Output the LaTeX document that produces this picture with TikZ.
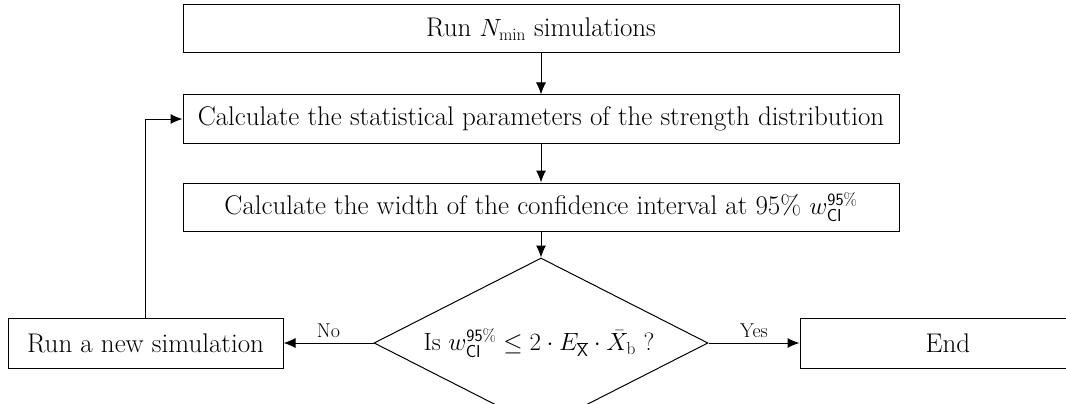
\documentclass[tikz,border=0pt]{standalone}
\usetikzlibrary{shapes.geometric,arrows.meta}
\begin{document}
\begin{tikzpicture}[x=1pt,y=-1pt,
  box/.style={draw, line width=1pt, rectangle, inner sep=0pt, font=\fontsize{27}{32}\selectfont},
  dia/.style={draw, line width=1pt, diamond, inner sep=0pt, minimum width=334pt, minimum height=170pt},
  arr/.style={line width=1pt, -{Latex[length=12pt,width=10pt]}},
  lbl/.style={font=\fontsize{20}{24}\selectfont, inner sep=5pt}]
\clip (0,0) rectangle (1066,404);
\node[box, minimum width=716pt, minimum height=48pt] (b1) at (541,29) {Run $N_{\mathrm{min}}$ simulations};
\node[box, minimum width=716pt, minimum height=48pt] (b2) at (541,119) {Calculate the statistical parameters of the strength distribution};
\node[box, minimum width=716pt, minimum height=48pt] (b3) at (541,207) {Calculate the width of the confidence interval at 95\% $w_{\mathsf{CI}}^{\mathsf{95\%}}$};
\node[dia] (d) at (541,343) {};
\node[font=\fontsize{25}{30}\selectfont] (dt) at (539,343) {Is $w_{\mathsf{CI}}^{\mathsf{95\%}} \le 2\cdot E_{\overline{\mathsf{X}}}\cdot \bar{X}_{\mathrm{b}}$ ?};
\node[box, minimum width=275pt, minimum height=50pt] (new) at (145.5,343) {Run a new simulation};
\node[box, minimum width=296pt, minimum height=50pt] (end) at (948,343) {End};
\draw[arr] (b1) -- (b2);
\draw[arr] (b2) -- (b3);
\draw[arr] (b3) -- (d.north);
\draw[arr] (d.west) -- node[lbl, above] {No} (new.east);
\draw[arr] (d.east) -- node[lbl, above] {Yes} (end.west);
\draw[arr] (new.north) -- (new.north |- b2.west) -- (b2.west);
\end{tikzpicture}
\end{document}
